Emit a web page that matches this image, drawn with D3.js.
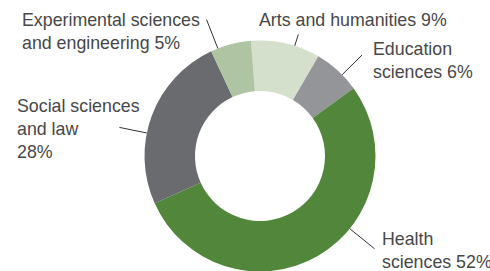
<!DOCTYPE html>
<html>
<head>
<meta charset="utf-8">
<script src="https://cdn.jsdelivr.net/npm/d3@7"></script>
<style>
  html, body { margin: 0; padding: 0; background: #fff; }
  svg { display: block; }
  .slice-label { font-family: "Liberation Sans", Arial, sans-serif; font-size: 17.8px; fill: #474747; }
  .leader { stroke: #333; stroke-width: 1; }
</style>
</head>
<body>
<script>
// slices, clockwise from the top
var categories = ["Arts and humanities", "Education sciences", "Health sciences", "Social sciences and law", "Experimental sciences and engineering"];
var shares = [9.7, 6.6, 53.3, 24.8, 5.7];          // slice sizes as drawn
var shareLabels = ["9%", "6%", "52%", "28%", "5%"]; // percentages printed on the chart

var colors = ["#d4e0cc", "#949599", "#52873b", "#6a6b6f", "#aec4a2"];

// label layout (lines of text, first baseline, leader angle in degrees, leader length)
var labelLayout = [
  {lines: ["Arts and humanities 9%"], x: 259, y: 26, angle: 17.5, len: 12},
  {lines: ["Education", "sciences 6%"], x: 373, y: 55, angle: 45.3, len: 28},
  {lines: ["Health", "sciences 52%"], x: 382, y: 245, angle: 129, len: 32},
  {lines: ["Social sciences", "and law", "28%"], x: 17, y: 112, angle: 281.5, len: 28},
  {lines: ["Experimental sciences", "and engineering 5%"], x: 22, y: 26, angle: 338.6, len: 31}
];

var width = 490, height = 271,
    cx = 260, cy = 156,
    outerR = 115.5, innerR = 65,
    lineHeight = 23,
    rad = Math.PI / 180;

var data = categories.map(function(c, i) {
  return {name: c, value: shares[i], label: shareLabels[i], color: colors[i], layout: labelLayout[i]};
});

var pie = d3.pie()
    .sort(null)
    .value(function(d) { return d.value; })
    .startAngle(-4.5 * rad)
    .endAngle(355.5 * rad);

var arc = d3.arc().innerRadius(innerR).outerRadius(outerR);

var svg = d3.select("body").append("svg")
    .attr("width", width)
    .attr("height", height);

var g = svg.append("g")
    .attr("transform", "translate(" + cx + "," + cy + ")");

g.selectAll("path")
  .data(pie(data))
  .enter()
  .append("path")
    .attr("d", arc)
    .attr("fill", function(d) { return d.data.color; });

// leader lines run radially out from the rim
g.selectAll("line")
  .data(data)
  .enter()
  .append("line")
    .attr("class", "leader")
    .attr("x1", function(d) { return Math.sin(d.layout.angle * rad) * outerR; })
    .attr("y1", function(d) { return -Math.cos(d.layout.angle * rad) * outerR; })
    .attr("x2", function(d) { return Math.sin(d.layout.angle * rad) * (outerR + d.layout.len); })
    .attr("y2", function(d) { return -Math.cos(d.layout.angle * rad) * (outerR + d.layout.len); });

var labels = svg.selectAll("text.slice-label")
  .data(data)
  .enter()
  .append("text")
    .attr("class", "slice-label");

labels.selectAll("tspan")
  .data(function(d) { return d.layout.lines.map(function(l) { return {text: l, x: d.layout.x, y: d.layout.y}; }); })
  .enter()
  .append("tspan")
    .attr("x", function(d) { return d.x; })
    .attr("y", function(d, i) { return d.y + i * lineHeight; })
    .text(function(d) { return d.text; });
</script>
</body>
</html>
